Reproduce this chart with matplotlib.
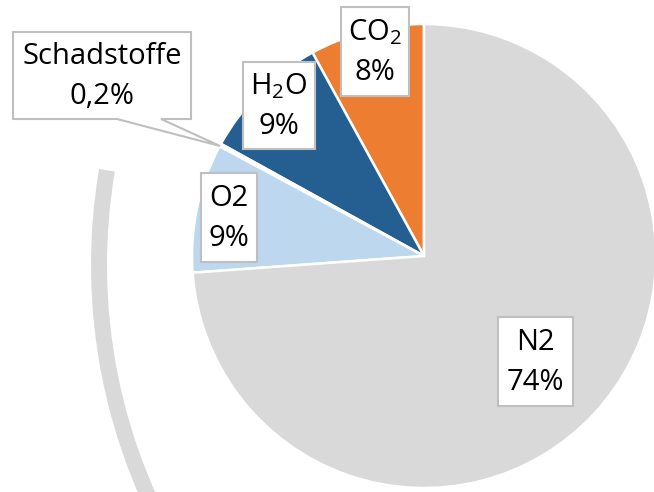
import matplotlib
matplotlib.use("Agg")
import matplotlib.pyplot as plt
from matplotlib.patches import Arc, Polygon, Rectangle

plt.rcParams["font.family"] = ["Open Sans", "DejaVu Sans"]
plt.rcParams["mathtext.fontset"] = "custom"
plt.rcParams["mathtext.rm"] = "Open Sans"
plt.rcParams["mathtext.it"] = "Open Sans"

# Exhaust gas composition (share in percent), counter-clockwise from 12 o'clock
categories = ["CO$_2$", "H$_2$O", "Schadstoffe", "O2", "N2"]
shares = [8, 9, 0.2, 9, 74]
colors = ["#ed7d31", "#255e91", "#ffffff", "#bdd7ee", "#d9d9d9"]
explode = [0, 0, 0, 0, 0.012]

W, H = 654, 492
fig = plt.figure(figsize=(W / 100, H / 100), dpi=100)
ax = fig.add_axes([0, 0, 1, 1])


def py(y):
    """Convert a top-down pixel row into the axes' bottom-up y."""
    return H - y


# decorative ring segment on the left
ax.add_patch(Arc((667, py(265)), 2 * 568, 2 * 568, theta1=170.4, theta2=212,
                 color="#d9d9d9", lw=11.5, zorder=1))

ax.pie(shares, colors=colors, startangle=90, counterclock=True,
       explode=explode, center=(424, py(256)), radius=232,
       wedgeprops=dict(edgecolor="white", linewidth=1.8), frame=True)
ax.set_xlim(0, W)
ax.set_ylim(0, H)
ax.set_aspect("equal")
ax.axis("off")

edge = "#bfbfbf"
fs = 21

# label boxes: (left, top, right, bottom) in pixel rows
boxes = {
    "CO$_2$": (341, 7, 409, 96),
    "H$_2$O": (243, 62, 315, 149),
    "Schadstoffe": (13, 32, 191, 119),
    "O2": (201, 173, 257, 262),
    "N2": (498, 317, 573, 406),
}

for name, value in zip(categories, shares):
    l, t, r, b = boxes[name]
    if name == "Schadstoffe":
        pts = [(l, t), (r, t), (r, b), (161, b), (220, 146), (117, b), (l, b)]
        ax.add_patch(Polygon([(x, py(y)) for x, y in pts], closed=True,
                             fc="white", ec=edge, lw=1.5, zorder=5))
    else:
        ax.add_patch(Rectangle((l, py(b)), r - l, b - t, fc="white",
                               ec=edge, lw=1.5, zorder=5))
    cx = (l + r) / 2
    cy = (t + b) / 2
    ax.text(cx, py(cy - 19), name, ha="center", va="center",
            fontsize=fs, color="black", zorder=6)
    ax.text(cx, py(cy + 21), f"{value:g}%".replace(".", ","), ha="center",
            va="center", fontsize=fs, color="black", zorder=6)

fig.savefig("out.png", dpi=100)
